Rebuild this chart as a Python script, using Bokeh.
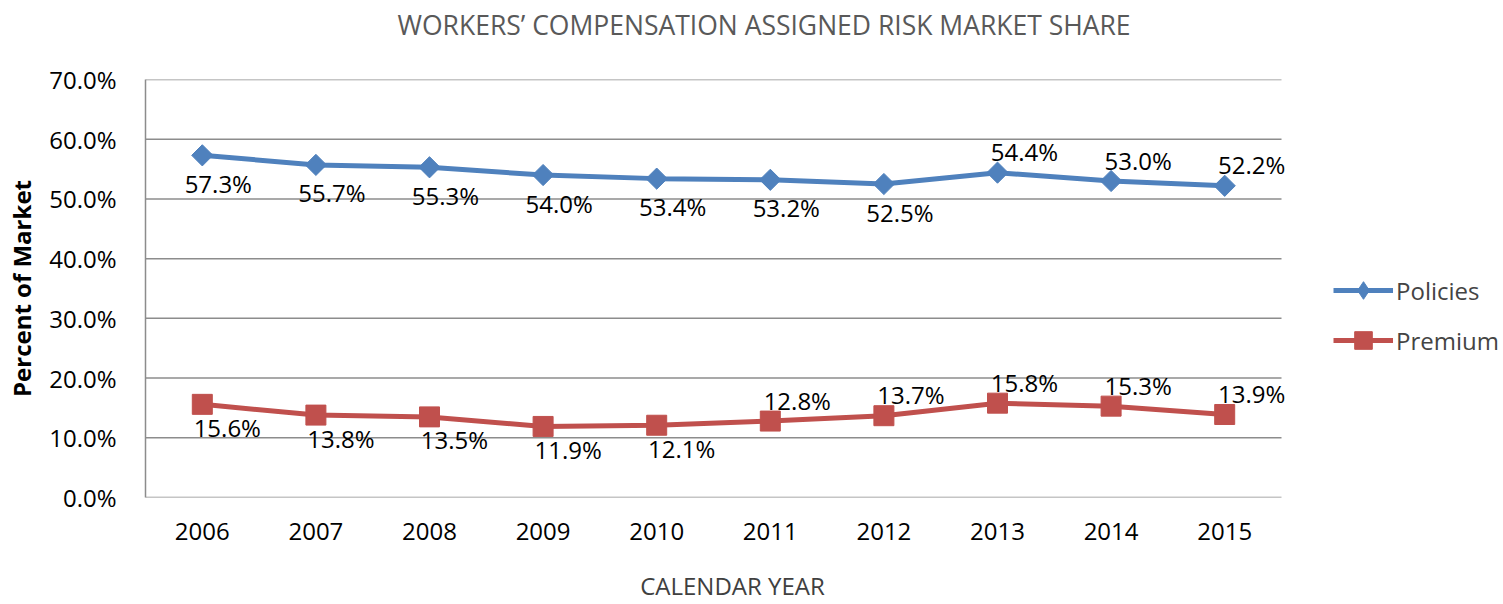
from bokeh.plotting import figure
from bokeh.models import (ColumnDataSource, Range1d, NumeralTickFormatter, FixedTicker,
                          Legend, LegendItem, LinearAxis, Title)
from bokeh.core.properties import value
from bokeh.embed import file_html
from bokeh.resources import INLINE
import math

years = ["2006", "2007", "2008", "2009", "2010", "2011", "2012", "2013", "2014", "2015"]
policies = [57.3, 55.7, 55.3, 54.0, 53.4, 53.2, 52.5, 54.4, 53.0, 52.2]
premium = [15.6, 13.8, 13.5, 11.9, 12.1, 12.8, 13.7, 15.8, 15.3, 13.9]
# label placement (style): True = above the point
policies_above = [False, False, False, False, False, False, False, True, True, True]
premium_above = [False, False, False, False, False, True, True, True, True, True]
y_ticks = [0, 0.1, 0.2, 0.3, 0.4, 0.5, 0.6, 0.7]

BLUE = "#4F81BD"
RED = "#C0504D"
GRID = "#8C8C8C"
FONT = "Open Sans"

n = len(years)
xs = list(range(n))
# frame extends right to leave room for the legend inside it
x_end = -0.5 + n * 1358 / 1136

p = figure(x_range=Range1d(-0.5, x_end), y_range=Range1d(0, 0.7),
           width=1503, height=604, output_backend="svg", toolbar_location=None,
           min_border_left=145, min_border_right=0, min_border_top=79, min_border_bottom=106,
           title=None)

# spacer between frame and chart title, then the title itself
p.add_layout(Title(text=" ", text_font_size="10px", standoff=20), "above")
p.add_layout(Title(text="WORKERS’ COMPENSATION ASSIGNED RISK MARKET SHARE",
                   align="left", offset=252, vertical_align="top", standoff=4,
                   text_font=FONT, text_font_size="26.5px", text_font_style="normal",
                   text_color="#595959"), "above")

p.outline_line_color = None
p.xgrid.grid_line_color = None
p.ygrid.grid_line_color = None

# horizontal gridlines spanning only the category area
p.segment(x0=[-0.5] * len(y_ticks), x1=[n - 0.5] * len(y_ticks), y0=y_ticks, y1=y_ticks,
          line_color=GRID, line_width=1.5)

p.yaxis.ticker = FixedTicker(ticks=y_ticks)
p.yaxis.formatter = NumeralTickFormatter(format="0.0%")
p.xaxis.ticker = FixedTicker(ticks=xs)
p.xaxis.major_label_overrides = {i: y for i, y in zip(xs, years)}
for ax in (p.xaxis[0], p.yaxis[0]):
    ax.major_tick_line_color = None
    ax.minor_tick_line_color = None
    ax.major_label_text_font = FONT
    ax.major_label_text_font_size = "24px"
    ax.major_label_text_color = "#000000"
p.xaxis.axis_line_color = None
p.yaxis.axis_line_color = GRID
p.yaxis.axis_line_width = 1.5
p.xaxis.major_label_standoff = 19
p.yaxis.major_label_standoff = 23
p.yaxis.axis_label = "Percent of Market"
p.yaxis.axis_label_text_font = FONT
p.yaxis.axis_label_text_font_style = "bold"
p.yaxis.axis_label_text_font_size = "24px"
p.yaxis.axis_label_text_color = "#000000"
p.yaxis.axis_label_standoff = 8

# x-axis title as a second, label-only axis so it can sit under the category area
title_pos = 4.667
xt = LinearAxis(ticker=FixedTicker(ticks=[title_pos]),
                major_label_overrides={title_pos: "CALENDAR YEAR"},
                axis_line_color=None, major_tick_line_color=None, minor_tick_line_color=None,
                major_label_standoff=20, major_label_text_font=FONT,
                major_label_text_font_size="24px", major_label_text_color="#404040")
p.add_layout(xt, "below")


def series(vals, above, color, marker, size, angle, xo_below, yo_below):
    src = ColumnDataSource(dict(
        x=xs, y=[v / 100 for v in vals],
        label=["%.1f%%" % v for v in vals],
        xo=[27 if a else xo_below for a in above],
        yo=[-21 if a else yo_below for a in above],
    ))
    ln = p.line("x", "y", source=src, line_color=color, line_width=5)
    mk = p.scatter("x", "y", source=src, marker=marker, size=size, angle=angle,
                   fill_color=color, line_color=color)
    p.text("x", "y", text="label", source=src, x_offset="xo", y_offset="yo",
           text_align="center", text_baseline="middle", text_font_size="24px",
           text_font=value(FONT), text_color="#000000")
    return ln, mk, src


l1, m1, s1 = series(policies, policies_above, BLUE, "square", 15, math.pi / 4, 16, 28)
l2, m2, s2 = series(premium, premium_above, RED, "square", 20, 0, 25, 23)
# legend-only diamond (legend glyphs ignore marker rotation); zero size on the plot
d1 = p.scatter("x", "y", source=s1, marker="diamond", size=0, fill_color=BLUE, line_color=BLUE)

leg = Legend(items=[LegendItem(label="Policies", renderers=[l1, d1]),
                    LegendItem(label="Premium", renderers=[l2, m2])],
             location=(1188, 135), glyph_width=60, glyph_height=44, spacing=6,
             padding=0, margin=0, label_standoff=3, border_line_color=None,
             background_fill_alpha=0, label_text_font=FONT, label_text_font_size="24px",
             label_height=44)
p.add_layout(leg)

open("out.html", "w").write(file_html(p, INLINE))
